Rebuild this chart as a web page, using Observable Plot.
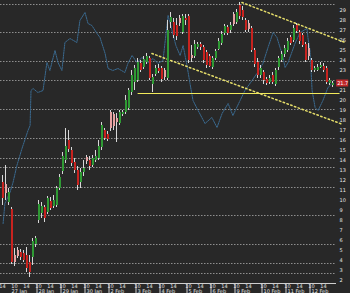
<!DOCTYPE html>
<html><head><meta charset="utf-8">
<script src="https://cdn.jsdelivr.net/npm/d3@7"></script>
<script src="https://cdn.jsdelivr.net/npm/@observablehq/plot@0.6"></script>
<style>
html,body{margin:0;padding:0;background:#282828;}
#chart{width:350px;height:293px;overflow:hidden;}
</style></head><body><div id="chart"></div>
<script>
// Hourly candles (price)
const opens = [11.8,11.6,9.8,9.1,4.5,5.0,4.8,4.7,4.5,3.8,
  4.3,5.6,8.0,8.7,9.3,8.8,9.9,9.4,9.5,11.2,
  12.9,14.0,16.0,15.0,13.8,13.0,11.8,12.8,14.3,14.0,
  13.5,14.0,14.2,15.3,17.0,16.6,18.8,18.6,18.2,17.7,
  18.6,18.8,19.2,20.8,21.8,22.0,23.7,23.3,23.8,24.2,
  21.6,22.6,23.2,23.2,23.0,22.2,27.8,27.8,27.5,28.2,
  26.8,28.2,28.4,24.5,24.4,25.3,25.6,25.3,24.8,24.4,
  23.3,24.2,25.1,25.7,26.7,27.3,27.0,28.6,27.8,29.5,
  29.0,28.0,27.7,27.2,25.0,23.8,22.5,22.8,22.1,21.8,
  22.5,21.6,23.3,24.0,24.6,25.0,26.3,26.0,27.5,26.8,
  26.5,25.6,25.2,24.0,23.0,23.0,23.3,23.4,23.2,21.7,21.5];
const closes = [10.2,10.7,10.8,3.8,3.8,4.4,4.3,4.0,3.2,2.8,
  5.9,6.2,9.6,9.4,8.2,10.2,9.2,10.0,11.2,12.3,
  14.4,15.4,15.1,13.7,13.0,11.5,12.8,13.2,13.9,13.4,
  14.2,14.4,15.4,17.5,16.2,16.1,17.2,17.4,17.8,18.8,
  18.8,20.0,21.0,22.5,23.2,23.8,23.0,24.1,24.4,22.2,
  22.3,23.2,22.9,22.1,22.3,27.0,28.3,26.5,26.4,27.7,
  28.4,28.0,24.0,24.2,25.6,25.6,25.3,24.0,23.5,23.4,
  24.2,24.9,25.9,26.6,27.4,26.7,27.5,27.6,28.8,28.4,
  28.3,27.0,27.1,25.0,23.6,22.5,23.2,22.0,21.7,22.2,
  21.8,23.0,24.2,24.6,25.2,25.9,25.7,27.2,26.9,25.9,
  25.5,24.0,24.4,23.0,23.2,23.3,23.5,23.0,21.8,22.0,21.7];
const highs = [12.5,13.5,11.2,9.3,5.2,5.3,5.1,5.0,5.3,4.5,
  6.2,6.4,10.0,9.8,9.5,10.4,10.3,10.5,11.4,12.6,
  14.8,17.2,17.0,15.3,14.2,13.4,13.2,14.0,14.5,14.4,
  14.5,15.0,16.0,17.8,17.2,16.9,19.0,18.8,18.7,19.0,
  19.0,20.5,21.2,23.0,23.5,24.2,24.0,24.4,24.7,24.4,
  22.6,23.5,23.6,23.4,23.2,28.0,28.8,28.2,28.2,28.5,
  28.6,28.6,28.6,25.5,26.0,25.8,25.8,25.5,25.0,24.6,
  24.4,25.1,26.2,26.9,27.6,27.5,27.8,28.8,29.1,29.8,
  29.4,28.2,28.0,27.4,25.2,24.2,23.5,23.0,22.3,22.5,
  22.8,23.2,24.4,24.9,25.5,26.2,26.5,27.5,27.7,27.0,
  26.7,25.8,25.7,24.2,23.4,23.6,23.8,23.7,23.4,22.2,21.9];
const lows = [9.5,10.0,9.5,3.6,3.4,4.2,4.0,3.8,2.8,2.3,
  3.5,5.3,7.7,8.2,7.8,8.6,9.0,9.2,9.3,11.0,
  12.6,13.7,14.8,13.4,12.7,11.0,11.2,12.4,13.6,13.0,
  13.3,13.8,14.0,15.0,16.0,15.9,16.9,17.0,15.8,17.5,
  18.4,18.6,19.0,20.5,21.0,21.8,22.8,23.1,23.6,22.0,
  20.8,22.4,22.7,21.8,22.0,22.0,27.2,26.2,26.0,27.4,
  26.6,27.5,23.7,23.8,24.2,25.1,25.0,23.7,23.2,23.3,
  23.1,24.0,25.0,25.5,26.5,26.5,26.7,27.4,27.6,28.1,
  28.0,26.8,26.8,24.8,23.3,22.2,22.2,21.6,21.5,21.6,
  21.6,21.4,23.0,23.8,24.3,24.8,25.5,25.8,26.7,25.6,
  25.3,23.8,24.0,22.8,22.8,22.9,23.2,22.8,21.6,21.5,21.3];

// Comparison line (blue)
const blueIdx = [0.2,0.8,2.5,3.5,4.8,6.5,8.5,9.2,9.5,10.2,11.8,13.5,14.2,14.8,15.8,17.5,18.5,19.8,20.8,22.5,
  24.8,25.8,27.5,28.5,29.8,31.5,32.5,34.2,35.2,36.8,38.5,40.8,41.8,43.2,44.8,46.5,48.5,50.2,51.8,53.5,
  55.2,56.5,57.8,59.2,60.2,61.5,62.5,63.5,65.2,67.5,69.8,71.5,73.2,75.2,76.8,79.2,80.8,83.2,84.8,86.8,
  88.5,90.2,91.5,92.5,93.2,94.2,95.2,97.5,99.2,101.5,101.8,102.5,103.2,104.2,105.2,106.8,108.5,110.2];
const blueVals = [7.7,9.7,10.8,11.8,13.5,15.2,17.0,17.5,21.0,21.2,20.8,21.0,22.5,23.8,23.0,25.0,23.8,23.0,25.8,26.2,
  25.8,28.0,28.8,27.7,27.5,26.7,26.3,24.7,23.2,23.0,23.2,22.8,23.7,24.5,23.8,24.3,23.8,24.2,23.7,24.0,
  28.5,27.0,25.5,24.5,25.5,23.5,21.7,20.0,19.0,17.7,18.3,17.3,18.7,19.7,18.5,20.0,21.0,22.0,22.7,23.7,
  25.3,26.8,26.3,25.3,24.7,23.3,23.8,25.7,26.8,27.2,26.3,25.0,21.0,19.3,19.0,20.0,21.3,21.8];

// Horizontal grid levels and price ticks
const gridValues = [29.6,26.8,23.9,22.0,19.1,16.2,14.2,13.3,11.3,8.5,5.6,3.7,2.7];
const priceTicks = [2,3,4,5,6,7,8,9,10,11,12,13,14,15,16,17,18,19,20,21,22,23,24,25,26,27,28,29];
const priceMin = 1.7, priceMax = 30;

// Drawn studies
const supportLevel = 20.7;
const supportFrom = 45.2, supportTo = 112.5;
const upperChannelX = [79.8, 114.2], upperChannelY = [29.8, 25.8];
const lowerChannelX = [49.8, 113.5], lowerChannelY = [24.7, 17.6];

// Time axis
const dayStarts = [12,20,28,36,45,53,62,70,78,87,95,103];
const dayLabelIdx = [3,12,20,28,36,45,53,62,70,78,87,95,103];
const dayLabels = ["27 Jan","28 Jan","29 Jan","30 Jan","2 Feb","3 Feb","4 Feb","5 Feb","6 Feb","9 Feb","10 Feb","11 Feb","12 Feb"];
const hourTicks = [0,4,8,12,16,20,24,28,32,36,40,45,49,53,57,62,66,70,74,78,82,87,91,95,99,103,107];
const hourLabels = ["14","10","14","10","14","10","14","10","14","10","14","10","14","10","14","10","14","10","14","10","14","10","14","10","14","10","14"];

const candles = opens.map((o, i) => ({i, o, c: closes[i], h: highs[i], l: lows[i], prev: i > 0 ? closes[i-1] : o}));
const bodyColor = d => d.c >= d.o ? "#2f9a34" : (d.c >= d.prev ? "#e6a3a3" : "#c8231f");
const blue = blueIdx.map((x, k) => ({x, v: blueVals[k]}));
const upper = upperChannelX.map((x, k) => ({x, v: upperChannelY[k]}));
const lower = lowerChannelX.map((x, k) => ({x, v: lowerChannelY[k]}));
const lastClose = closes[closes.length - 1];
const lastIdx = closes.length - 1;
const shownTicks = priceTicks.filter(t => Math.abs(t - lastClose) > 0.6);

const chart = Plot.plot({
  width: 350, height: 293,
  marginTop: 0, marginLeft: 0, marginRight: 14, marginBottom: 10,
  style: {background: "#282828", color: "#e0e0e0", fontFamily: "DejaVu Sans", fontSize: "5px"},
  x: {type: "linear", domain: [0, lastIdx], range: [2, 2 + 3 * lastIdx], axis: null},
  y: {domain: [priceMin, priceMax], range: [283, 0]},
  marks: [
    Plot.ruleY(gridValues, {stroke: "#a8a8a8", strokeDasharray: "1.5,1.5", strokeOpacity: 0.8}),
    Plot.ruleY([priceMin], {stroke: "#cfcfcf"}),
    Plot.axisY({anchor: "right", ticks: shownTicks, tickSize: 0, tickPadding: 3, fontSize: 5, fill: "#e6e6e6", label: null}),
    Plot.line(blue, {x: "x", y: "v", stroke: "#3a6a90", strokeWidth: 1, strokeDasharray: "1.5,1"}),
    Plot.ruleY([supportLevel], {x1: supportFrom, x2: supportTo, stroke: "#f2ea5a", strokeWidth: 1.2}),
    Plot.line(upper, {x: "x", y: "v", stroke: "#e6de6a", strokeDasharray: "1.5,2.5"}),
    Plot.line(lower, {x: "x", y: "v", stroke: "#e6de6a", strokeDasharray: "1.5,2.5"}),
    Plot.ruleX(candles, {x: "i", y1: "l", y2: "h", stroke: "#d8d8d8"}),
    Plot.ruleX(candles, {x: "i", y1: "o", y2: "c", stroke: bodyColor, strokeWidth: 2, dx: 0.5}),
    Plot.rect([lastClose], {x1: lastIdx + 1.4, x2: lastIdx + 5.4, y1: d => d - 0.35, y2: d => d + 0.35, fill: "#c0282a"}),
    Plot.text([lastClose], {x: lastIdx + 3.4, y: d => d, text: d => d.toFixed(1), fill: "#ffffff", fontSize: 5}),
    Plot.ruleX(dayStarts, {x: d => d - 0.5, y1: priceMin - 0.1, y2: priceMin - 1.0, stroke: "#cfcfcf"}),
    Plot.text(hourTicks, {x: d => d, y: priceMin - 0.25, text: (d, k) => hourLabels[k], fill: "#e6e6e6", fontSize: 5}),
    Plot.text(dayLabelIdx, {x: d => d, y: priceMin - 0.78, text: (d, k) => dayLabels[k], fill: "#e6e6e6", fontSize: 5, textAnchor: "start"})
  ]
});
document.getElementById("chart").appendChild(chart);
</script>
</body></html>
